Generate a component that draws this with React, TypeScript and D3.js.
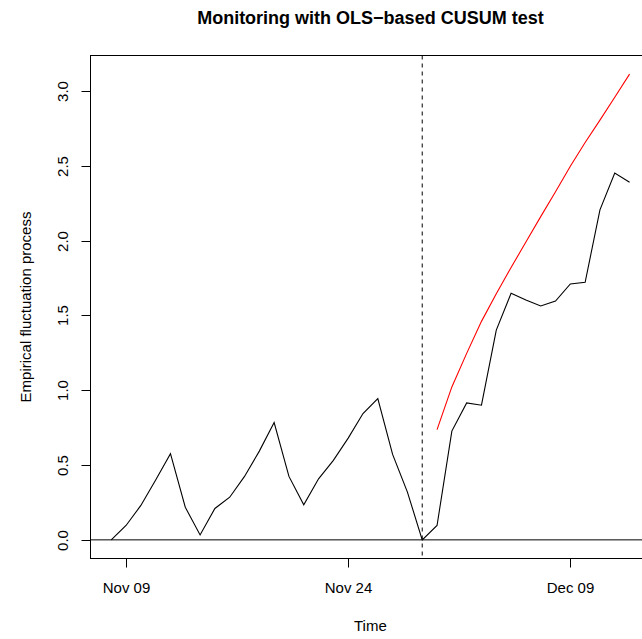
import React from "react";
import * as d3 from "d3";

const dates: string[] = [
  "2023-11-08","2023-11-09","2023-11-10","2023-11-11","2023-11-12","2023-11-13",
  "2023-11-14","2023-11-15","2023-11-16","2023-11-17","2023-11-18","2023-11-19",
  "2023-11-20","2023-11-21","2023-11-22","2023-11-23","2023-11-24","2023-11-25",
  "2023-11-26","2023-11-27","2023-11-28","2023-11-29","2023-11-30","2023-12-01",
  "2023-12-02","2023-12-03","2023-12-04","2023-12-05","2023-12-06","2023-12-07",
  "2023-12-08","2023-12-09","2023-12-10","2023-12-11","2023-12-12","2023-12-13",
];

const process: number[] = [
  0, 0.096, 0.23, 0.40, 0.576, 0.218,
  0.033, 0.21, 0.285, 0.424, 0.593, 0.784,
  0.424, 0.234, 0.408, 0.531, 0.68, 0.844,
  0.944, 0.571, 0.319, 0, 0.096, 0.727,
  0.915, 0.90, 1.402, 1.648, 1.603, 1.563,
  1.596, 1.71, 1.721, 2.205, 2.451, 2.39,
];

const boundaryDates: string[] = [
  "2023-11-30","2023-12-01","2023-12-02","2023-12-03","2023-12-04","2023-12-05",
  "2023-12-06","2023-12-07","2023-12-08","2023-12-09","2023-12-10","2023-12-11",
  "2023-12-12","2023-12-13",
];
const boundary: number[] = [
  0.737, 1.022, 1.246, 1.46, 1.645, 1.82,
  1.99, 2.16, 2.326, 2.496, 2.655, 2.805,
  2.958, 3.112,
];

const monitorStart = "2023-11-29";
const xTickDates: string[] = ["2023-11-09", "2023-11-24", "2023-12-09"];
const xTickLabels: string[] = ["Nov 09", "Nov 24", "Dec 09"];
const yTicks: number[] = [0, 0.5, 1, 1.5, 2, 2.5, 3];

const title = "Monitoring with OLS\u2212based CUSUM test";
const xLabel = "Time";
const yLabel = "Empirical fluctuation process";

const W = 642, H = 639;
const left = 90.5, right = 650.3, top = 55.5, bottom = 558.5;
const DAY = 86400000;

const parse = (s: string) => new Date(s + "T00:00:00Z");

export default function App() {
  const t0 = parse(dates[0]).getTime();
  const t1 = parse(dates[dates.length - 1]).getTime();
  const pad = (t1 - t0) * 0.04;
  const x = d3.scaleUtc().domain([new Date(t0 - pad), new Date(t1 + pad)]).range([left, right]);
  const yMax = d3.max([...process, ...boundary]) as number;
  const yMin = 0;
  const yr = yMax - yMin;
  const y = d3.scaleLinear().domain([yMin - 0.04 * yr, yMax + 0.04 * yr]).range([bottom, top]);

  const line = d3.line<[Date, number]>().x(d => x(d[0])).y(d => y(d[1]));
  const procPath = line(dates.map((d, i) => [parse(d), process[i]]));
  const bPath = line(boundaryDates.map((d, i) => [parse(d), boundary[i]]));
  const vx = x(parse(monitorStart));

  const font = "'Liberation Sans', Arial, Helvetica, sans-serif";

  return (
    <svg width={W} height={H} style={{ position: "absolute", left: 0, top: 0, background: "#fff" }}
      fontFamily={font}>
      <defs>
        <clipPath id="plotclip">
          <rect x={left} y={top} width={right - left} height={bottom - top} />
        </clipPath>
      </defs>
      <text x={(left + right) / 2} y={24} textAnchor="middle" fontWeight="bold" fontSize={18}>{title}</text>
      <g clipPath="url(#plotclip)">
        <line x1={left} x2={right} y1={y(0)} y2={y(0)} stroke="#000" strokeWidth={1} />
        <line x1={vx} x2={vx} y1={top} y2={bottom} stroke="#000" strokeWidth={1} strokeDasharray="4,4" />
        <path d={procPath || ""} fill="none" stroke="#000" strokeWidth={1.1} />
        <path d={bPath || ""} fill="none" stroke="#ff0000" strokeWidth={1.1} />
      </g>
      <rect x={left} y={top} width={right - left} height={bottom - top} fill="none" stroke="#000" strokeWidth={1} />
      {xTickDates.map((d, i) => {
        const px = Math.round(x(parse(d))) + 0.5;
        return (
          <g key={d}>
            <line x1={px} x2={px} y1={bottom} y2={bottom + 9} stroke="#000" />
            <text x={px} y={593} textAnchor="middle" fontSize={15}>{xTickLabels[i]}</text>
          </g>
        );
      })}
      {yTicks.map(v => {
        const py = Math.round(y(v)) + 0.5;
        return (
          <g key={v}>
            <line x1={left} x2={left - 9} y1={py} y2={py} stroke="#000" />
            <text transform={`translate(68,${py}) rotate(-90)`} textAnchor="middle" fontSize={15}>{v.toFixed(1)}</text>
          </g>
        );
      })}
      <text x={(left + right) / 2} y={631} textAnchor="middle" fontSize={15}>{xLabel}</text>
      <text transform={`translate(31,${(top + bottom) / 2}) rotate(-90)`} textAnchor="middle" fontSize={15}>{yLabel}</text>
    </svg>
  );
}
